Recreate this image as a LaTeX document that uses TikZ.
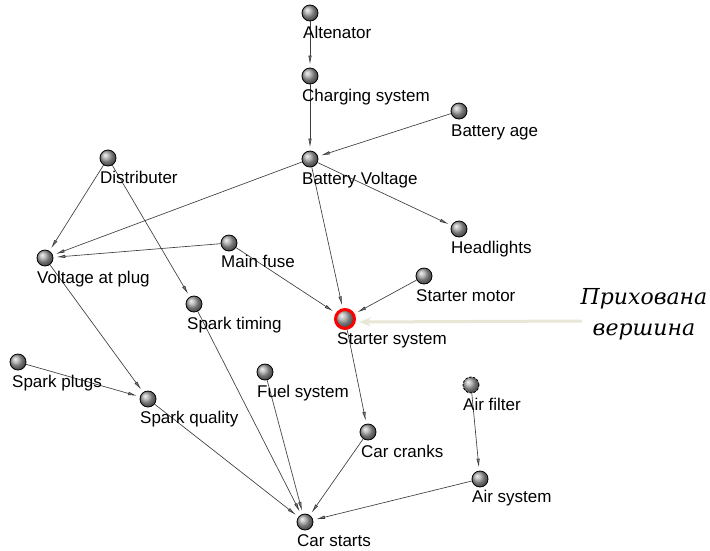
\documentclass[tikz,border=0pt]{standalone}
\usepackage{fontspec}
\setmainfont{Liberation Sans}
\newfontfamily\ukrfont{DejaVu Serif}
\usetikzlibrary{arrows.meta,shadings}
\definecolor{edgecol}{RGB}{60,60,60}
\definecolor{hintcol}{RGB}{232,230,212}
\tikzset{
  vtx/.style={circle, draw=black, line width=0.8pt, minimum size=16pt, inner sep=0pt, shading=ball, ball color=gray!70},
  hidden/.style={vtx, draw=red, line width=3pt, minimum size=19pt},
  dashedvtx/.style={vtx, dashed, dash pattern=on 2.5pt off 1.5pt},
  lbl/.style={font=\fontsize{17}{20}\selectfont, inner sep=0pt, anchor=base west},
  edge/.style={draw=edgecol, line width=0.65pt, -{Latex[length=9pt,width=3.4pt,fill=gray]}, shorten >=3pt},
}
\begin{document}
\begin{tikzpicture}[x=1pt,y=-1pt]
\useasboundingbox (0,0) rectangle (710,550);
% vertices
\node[vtx] (alt) at (310,13) {};
\node[vtx] (chg) at (310,76) {};
\node[vtx] (bage) at (459,111) {};
\node[vtx] (dist) at (108,158) {};
\node[vtx] (bv) at (310,159) {};
\node[vtx] (head) at (459,229) {};
\node[vtx] (vplug) at (45,258) {};
\node[vtx] (fuse) at (229,243) {};
\node[vtx] (stim) at (194,304) {};
\node[vtx] (smot) at (424,276) {};
\node[hidden] (ssys) at (345,319) {};
\node[vtx] (splug) at (18,362) {};
\node[vtx] (fuel) at (265,372) {};
\node[dashedvtx] (afil) at (471,385) {};
\node[vtx] (squal) at (148,399) {};
\node[vtx] (crank) at (368,432) {};
\node[vtx] (asys) at (480,479) {};
\node[vtx] (start) at (305,522) {};
% edges
\draw[edge] (alt) -- (chg);
\draw[edge] (chg) -- (bv);
\draw[edge] (bage) -- (bv);
\draw[edge] (bv) -- (vplug);
\draw[edge] (bv) -- (head);
\draw[edge] (bv) -- (ssys);
\draw[edge] (dist) -- (vplug);
\draw[edge] (dist) -- (stim);
\draw[edge] (fuse) -- (vplug);
\draw[edge] (fuse) -- (ssys);
\draw[edge] (smot) -- (ssys);
\draw[edge] (vplug) -- (squal);
\draw[edge] (splug) -- (squal);
\draw[edge] (squal) -- (start);
\draw[edge] (stim) -- (start);
\draw[edge] (fuel) -- (start);
\draw[edge] (ssys) -- (crank);
\draw[edge] (crank) -- (start);
\draw[edge] (afil) -- (asys);
\draw[edge] (asys) -- (start);
% labels
\node[lbl] (altL) at (303,38) {Altenator};
\node[lbl] (chgL) at (302,101) {Charging system};
\node[lbl] (bageL) at (451,136) {Battery age};
\node[lbl] (distL) at (100,183) {Distributer};
\node[lbl] (bvL) at (302,184) {Battery Voltage};
\node[lbl] (headL) at (451,253) {Headlights};
\node[lbl] (vplugL) at (37,283) {Voltage at plug};
\node[lbl] (fuseL) at (221,267) {Main fuse};
\node[lbl] (stimL) at (187,329) {Spark timing};
\node[lbl] (smotL) at (416,301) {Starter motor};
\node[lbl] (ssysL) at (337,344) {Starter system};
\node[lbl] (splugL) at (12,387) {Spark plugs};
\node[lbl] (fuelL) at (257,397) {Fuel system};
\node[lbl] (afilL) at (463,410) {Air filter};
\node[lbl] (squalL) at (140,423) {Spark quality};
\node[lbl] (crankL) at (361,457) {Car cranks};
\node[lbl] (asysL) at (472,502) {Air system};
\node[lbl] (startL) at (297,546) {Car starts};
% annotation
\node[font=\ukrfont\itshape\fontsize{22}{31}\selectfont, align=center, inner sep=0pt, anchor=base] (note) at (644,335) {Прихована\\вершина};
\coordinate (noteArrow) at (582,321);
\draw[hintcol, line width=3pt, -{Stealth[length=12pt,width=9pt]}, shorten >=3pt] (noteArrow) -- (ssys.east |- 0,322);
\end{tikzpicture}
\end{document}
